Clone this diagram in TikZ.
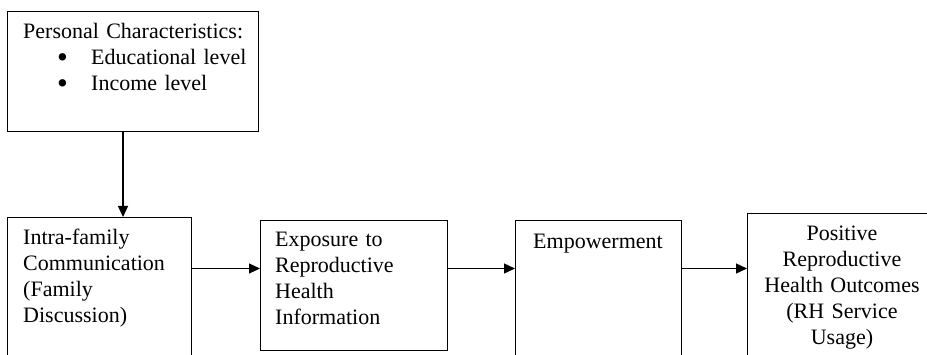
\documentclass[tikz,border=0pt]{standalone}
\usepackage{fontspec}
\setmainfont{Liberation Serif}
\usetikzlibrary{arrows.meta}
\newcommand{\bigbullet}{\raisebox{-2.5pt}{\scalebox{1.4}{\textbullet}}}
\begin{document}
\begin{tikzpicture}[x=1pt,y=-1pt,
  box/.style={draw, line width=1.2pt, inner sep=0pt, anchor=north west},
  txt/.style={inner sep=0pt, font=\fontsize{22}{26}\selectfont},
  arr/.style={line width=1.2pt, -{Triangle[length=11pt,width=10pt]}}]
\useasboundingbox (0,0) rectangle (927,355);
\clip (0,0) rectangle (927,355);
% boxes
\node[box, minimum width=251pt, minimum height=120pt] (pc) at (7,11) {};
\node[box, minimum width=184pt, minimum height=160pt] (ifc) at (7,217) {};
\node[box, minimum width=187pt, minimum height=130pt] (exp) at (260,220) {};
\node[box, minimum width=166pt, minimum height=160pt] (emp) at (515,220) {};
\node[box, minimum width=200pt, minimum height=170pt] (out) at (747,213) {};
% texts
\node[txt, anchor=base west, text width=240pt, align=left] (t0) at (23,39)
  {Personal Characteristics:\\
   \hspace*{34pt}\makebox[34pt][l]{\bigbullet}Educational level\\
   \hspace*{34pt}\makebox[34pt][l]{\bigbullet}Income level};
\node[txt, anchor=base west, text width=165pt, align=left] (t1) at (23,245)
  {Intra-family\\Communication\\(Family\\Discussion)};
\node[txt, anchor=base west, text width=170pt, align=left] (t2) at (275,247)
  {Exposure to\\Reproductive\\Health\\Information};
\node[txt, anchor=base] (t3) at (598,249) {Empowerment};
\node[txt, anchor=base, text width=190pt, align=center] (t4) at (842,241)
  {Positive\\Reproductive\\Health Outcomes\\(RH Service\\Usage)};
% connectors
\coordinate (v) at (123,0);
\coordinate (h) at (0,268.5);
\draw[arr] (pc.south -| v) -- (ifc.north -| v);
\draw[arr] (ifc.east |- h) -- (exp.west |- h);
\draw[arr] (exp.east |- h) -- (emp.west |- h);
\draw[arr] (emp.east |- h) -- (out.west |- h);
\end{tikzpicture}
\end{document}
